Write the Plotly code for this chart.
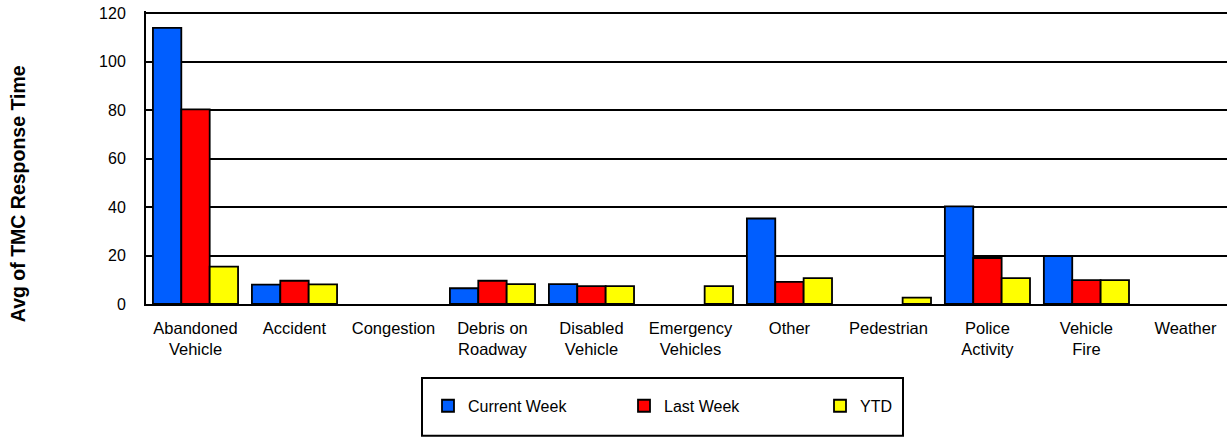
import plotly.graph_objects as go

categories = ["Abandoned<br>Vehicle", "Accident", "Congestion", "Debris on<br>Roadway",
              "Disabled<br>Vehicle", "Emergency<br>Vehicles", "Other", "Pedestrian",
              "Police<br>Activity", "Vehicle<br>Fire", "Weather"]
current_week = [114, 8, None, 6.5, 8.2, None, 35.3, None, 40.3, 19.8, None]
last_week = [80.4, 9.6, None, 9.6, 7.4, None, 9.1, None, 19, 9.9, None]
ytd = [15.4, 8.1, None, 8.2, 7.4, 7.4, 10.7, 2.6, 10.7, 9.9, None]
series_names = ["Current Week", "Last Week", "YTD"]
series_colors = ["#005EFF", "#FF0000", "#FFFF00"]
y_ticks = [0, 20, 40, 60, 80, 100, 120]

W, H = 1227, 438
Y_MAX = 121.0
Y120_PX, PLOT_B = 13, 304
PLOT_L, PLOT_R = 146, 1227
PLOT_T = PLOT_B - (PLOT_B - Y120_PX) * Y_MAX / 120.0
ML, MR, MT, MB = PLOT_L, W - PLOT_R, PLOT_T, H - PLOT_B
PW, PH = PLOT_R - PLOT_L, PLOT_B - PLOT_T

def px_x(p):
    return (p - PLOT_L) / PW

def px_y(p):
    return (PLOT_B - p) / PH

fig = go.Figure()
for name, vals, col in zip(series_names, [current_week, last_week, ytd], series_colors):
    fig.add_trace(go.Bar(
        x=list(range(len(categories))), y=vals, name=name,
        marker=dict(color=col, line=dict(color="#000000", width=1.8)),
    ))

font_family = "Liberation Sans, Arial, sans-serif"
fig.update_layout(
    width=W, height=H,
    margin=dict(l=ML, r=MR, t=MT, b=MB, pad=0, autoexpand=False),
    paper_bgcolor="white", plot_bgcolor="white",
    barmode="group", bargap=0.14, bargroupgap=0,
    font=dict(family=font_family, size=16, color="#000000"),
    xaxis=dict(
        range=[-0.5, 10.42], tickmode="array",
        tickvals=list(range(len(categories))), ticktext=categories,
        showgrid=False, showline=True, linecolor="#000000", linewidth=2,
        ticks="", tickfont=dict(size=16.5), zeroline=False, automargin=False,
        ticklabelstandoff=8,
    ),
    yaxis=dict(
        range=[0, Y_MAX], tickmode="array", tickvals=y_ticks,
        showgrid=True, gridcolor="#000000", gridwidth=1.5,
        showline=True, linecolor="#000000", linewidth=2,
        ticks="", ticklabelstandoff=15, zeroline=False, automargin=False,
        ticklabeloverflow="allow", tickfont=dict(size=16),
    ),
    showlegend=True,
    legend=dict(
        orientation="h", x=px_x(428), xanchor="left",
        y=px_y(406), yanchor="middle",
        entrywidth=151, entrywidthmode="pixels",
        bgcolor="rgba(0,0,0,0)", borderwidth=0,
        font=dict(size=16),
    ),
    shapes=[dict(
        type="rect", xref="paper", yref="paper",
        x0=px_x(422), x1=px_x(903), y0=px_y(436), y1=px_y(378),
        line=dict(color="#000000", width=2), fillcolor="rgba(0,0,0,0)",
    )],
    annotations=[dict(
        text="Avg of TMC Response Time", textangle=-90,
        xref="paper", yref="paper", x=px_x(18), y=px_y(194),
        xanchor="center", yanchor="middle", showarrow=False,
        font=dict(size=19.5, weight="bold", family=font_family),
    )],
)

fig.write_html("out.html", config={"displayModeBar": False},
               post_script="document.body.style.margin='0px';")
